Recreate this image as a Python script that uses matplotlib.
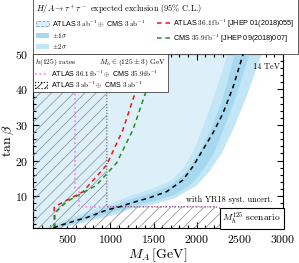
import numpy as np
import matplotlib
matplotlib.use('Agg')
import matplotlib.pyplot as plt
from matplotlib.patches import Patch
from matplotlib.lines import Line2D
from matplotlib.ticker import MultipleLocator

plt.rcParams['font.family'] = 'serif'
plt.rcParams['font.serif'] = ['cmr10']
plt.rcParams['mathtext.fontset'] = 'cm'
plt.rcParams['axes.formatter.use_mathtext'] = True
plt.rcParams['hatch.linewidth'] = 0.5

# HL-LHC expected H/A -> tautau exclusion (median), M_A [GeV] vs tan(beta)
exp_ma = [340, 420, 510, 610, 720, 840, 960, 1110, 1260, 1450, 1650, 1840, 1956,
          2072, 2188, 2300, 2420, 2540]
exp_tb = [1.0, 1.8, 2.4, 3.2, 3.9, 5.0, 6.1, 7.0, 8.2, 9.5, 11.2, 14.5, 18.3,
          23.0, 27.7, 33.0, 40.5, 50.0]

# +-1 sigma band edges
s1_lo_ma = [300, 420, 600, 840, 1050, 1260, 1500, 1700, 1870, 2000, 2100, 2180, 2300, 2443]
s1_lo_tb = [1.0, 2.2, 3.7, 5.6, 7.4, 9.3, 11.0, 13.0, 16.5, 21.0, 25.5, 29.5, 37.0, 50.0]
s1_hi_ma = [380, 520, 700, 900, 1100, 1260, 1500, 1750, 1944, 2080, 2200, 2310, 2440, 2617]
s1_hi_tb = [1.0, 1.9, 3.2, 4.6, 5.9, 7.3, 8.5, 10.4, 13.5, 17.5, 22.0, 28.6, 37.0, 50.0]

# +-2 sigma band edges
s2_lo_ma = [260, 400, 600, 840, 1050, 1260, 1500, 1712, 1850, 1960, 2060, 2200, 2362]
s2_lo_tb = [1.0, 2.6, 4.4, 6.5, 8.3, 10.3, 12.2, 14.5, 18.0, 22.5, 28.6, 38.0, 50.0]
s2_hi_ma = [420, 560, 750, 950, 1100, 1260, 1500, 1750, 2002, 2150, 2290, 2420, 2580, 2753]
s2_hi_tb = [1.0, 1.8, 2.9, 4.1, 5.0, 6.6, 7.7, 9.4, 13.0, 17.0, 22.0, 28.6, 38.0, 50.0]

# current limits
atlas_ma = [347, 347, 390, 680, 955, 1144, 1310, 1420]
atlas_tb = [1.0, 6.8, 7.5, 11.2, 18.7, 28.6, 40.8, 50.0]
cms_ma = [355, 355, 491, 839, 1071, 1260, 1419, 1545]
cms_tb = [1.0, 5.2, 8.4, 13.1, 19.3, 28.6, 39.9, 50.0]

# h(125) rate constraints
cur_h_ma = [587, 587, 634, 634, 2211]
cur_h_tb = [50.0, 12.3, 12.3, 7.0, 7.0]
hl_h_ma = [958, 958, 2211, 2304, 3000]
hl_h_tb = [50.0, 7.0, 7.0, 6.4, 6.4]

xmin, xmax = 100, 3000
ymin, ymax = 1, 50

c_excl = '#ddf0f9'
c_2s = '#c2e6f5'
c_1s = '#a6d9f0'
c_pink = '#ee82ee'

fig = plt.figure(figsize=(2.99, 2.63), dpi=100)
ax = fig.add_axes([0.110, 0.133, 0.836, 0.662])

# excluded region left of the median line
ax.fill([xmin] + exp_ma + [xmin], [ymin] + exp_tb + [ymax], color=c_excl, lw=0, zorder=1)
ax.fill(s2_lo_ma + s2_hi_ma[::-1], s2_lo_tb + s2_hi_tb[::-1], color=c_2s, lw=0, zorder=2)
ax.fill(s1_lo_ma + s1_hi_ma[::-1], s1_lo_tb + s1_hi_tb[::-1], color=c_1s, lw=0, zorder=3)

# hatched h(125) region
ax.fill([xmin, xmax] + hl_h_ma[::-1] + [xmin], [ymin, ymin] + hl_h_tb[::-1] + [ymax],
        facecolor='none', edgecolor='#8a8a8a', hatch='///', lw=0, zorder=4)
ax.plot(cur_h_ma, cur_h_tb, color=c_pink, ls=':', lw=1.2, zorder=5)
ax.plot(hl_h_ma, hl_h_tb, color='#555555', ls=':', lw=0.8, zorder=5)

ax.plot(atlas_ma, atlas_tb, color='#e8161b', ls=(0, (3, 2.5)), lw=1.1, zorder=6)
ax.plot(cms_ma, cms_tb, color='#1f8f1f', ls=(0, (3, 2.5)), lw=1.1, zorder=6)
ax.plot(exp_ma, exp_tb, color='black', ls=(0, (3, 2.5)), lw=1.1, zorder=7)

ax.set_xlim(xmin, xmax)
ax.set_ylim(ymin, ymax)
ax.xaxis.set_major_locator(MultipleLocator(500))
ax.xaxis.set_minor_locator(MultipleLocator(100))
ax.yaxis.set_major_locator(MultipleLocator(10))
ax.yaxis.set_minor_locator(MultipleLocator(2))
ax.tick_params(which='both', direction='in', top=True, right=True, labelsize=8.5, width=0.8)
ax.tick_params(which='major', length=4)
ax.tick_params(which='minor', length=2)
for s in ax.spines.values():
    s.set_linewidth(0.8)
ax.set_xlabel(r'$M_A\,[\mathrm{GeV}]$', fontsize=10, labelpad=1)
ax.set_ylabel(r'$\tan\beta$', fontsize=10)
ax.yaxis.set_label_coords(-0.068, 0.5)

ax.text(0.99, 0.925, '14 TeV', transform=ax.transAxes, ha='right', va='center', fontsize=6, zorder=9)
ax.text(0.96, 0.16, 'with YR18 syst. uncert.', transform=ax.transAxes, ha='right', va='center',
        fontsize=6, zorder=9)
ax.text(0.993, 0.012, r'$M_h^{125}$ scenario', transform=ax.transAxes, ha='right', va='bottom',
        fontsize=6.8, zorder=9,
        bbox=dict(boxstyle='square,pad=0.3', facecolor='white', edgecolor='black', lw=0.8))

sans = {'family': 'Liberation Sans', 'size': 5.2}

# top legend
top_h = [Patch(facecolor=c_excl, edgecolor='#7f9fbf', ls='--', lw=0.6),
         Patch(facecolor=c_1s, lw=0),
         Patch(facecolor=c_2s, lw=0),
         Line2D([], [], color='#e8161b', ls=(0, (3, 2.5)), lw=1.1),
         Line2D([], [], color='#1f8f1f', ls=(0, (3, 2.5)), lw=1.1)]
top_l = [r'ATLAS $3\,\mathrm{ab}^{-1}\oplus$ CMS $3\,\mathrm{ab}^{-1}$',
         r'$\pm 1\sigma$', r'$\pm 2\sigma$',
         r'ATLAS $36.1\,\mathrm{fb}^{-1}$ [JHEP 01(2018)055]',
         r'CMS $35.9\,\mathrm{fb}^{-1}$ [JHEP 09(2018)007]']
leg1 = ax.legend(top_h, top_l, loc='lower left', bbox_to_anchor=(0, 1, 1.06, 0.28),
                 mode='expand', ncol=2, borderaxespad=0, prop=sans,
                 title=r'$H/A\to\tau^+\tau^-$ expected exclusion (95% C.L.)',
                 title_fontproperties={'family': 'serif', 'size': 6}, alignment='left',
                 fancybox=False, edgecolor='#444444', framealpha=1, handlelength=1.8,
                 handleheight=0.8, labelspacing=0.3, borderpad=0.4, handletextpad=0.5)
leg1.get_frame().set_linewidth(0.6)
ax.add_artist(leg1)

# inner legend
in_h = [Line2D([], [], color=c_pink, ls=':', lw=1.2),
        Patch(facecolor='white', edgecolor='black', hatch='////', ls=':', lw=0.8)]
in_l = [r'ATLAS $36.1\,\mathrm{fb}^{-1}\oplus$ CMS $35.9\,\mathrm{fb}^{-1}$',
        r'ATLAS $3\,\mathrm{ab}^{-1}\oplus$ CMS $3\,\mathrm{ab}^{-1}$']
leg2 = ax.legend(in_h, in_l, loc='upper left', borderaxespad=0,
                 prop={'family': 'Liberation Sans', 'size': 5.1},
                 title=r'$h(125)$ rates          $M_h\in(125\pm3)$ GeV',
                 title_fontproperties={'family': 'serif', 'size': 5.4}, alignment='left',
                 fancybox=False, edgecolor='#444444', framealpha=1, handlelength=1.8,
                 handleheight=0.8, labelspacing=0.12, borderpad=0.25, handletextpad=0.5)
leg2.get_frame().set_linewidth(0.6)
leg2.set_zorder(10)

fig.savefig('out.png', dpi=100)
